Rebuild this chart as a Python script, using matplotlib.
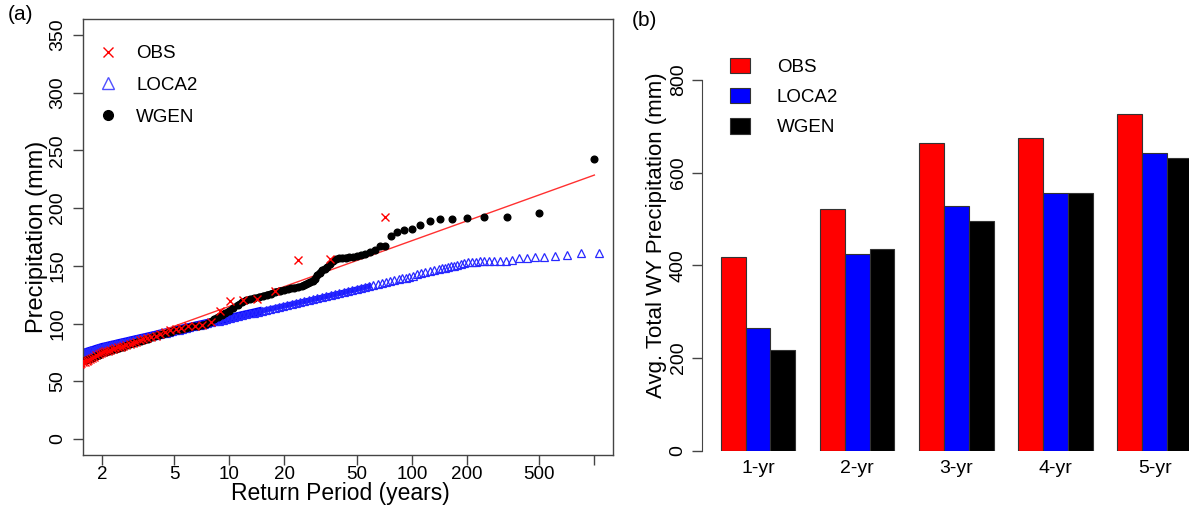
import matplotlib
matplotlib.use('Agg')
import matplotlib.pyplot as plt
import numpy as np
from matplotlib.lines import Line2D
from matplotlib.patches import Patch
from matplotlib.ticker import NullLocator

plt.rcParams['font.family'] = ['Liberation Sans', 'DejaVu Sans']

# ---- (a) annual maxima vs return period, T = (n + 1) / rank ----
obs_n = 70
obs_mm = [192, 156.3, 155.4, 127.8, 121.5, 120.6, 119.4, 110.7, 101.2, 98.3,
          98, 97.5, 96.5, 95.5, 94, 92.5, 91, 89.5, 88.5, 87.3,
          86.3, 85.3, 84.3, 83.4, 82.5, 81.6, 80.8, 80.0, 79.2, 78.5,
          77.8, 77.1, 76.5, 75.9, 75.3, 74.5, 73.3, 72.3, 71.2, 70.2,
          69.2, 68.5, 67.8, 67, 66.3, 65.5, 65]

wgen_n = 999
wgen_rank = [1, 2, 3, 4, 5, 6, 7, 8, 9, 10, 11, 12, 13, 14, 15, 16, 17, 18, 19, 20,
             21, 22, 23, 24, 25, 26, 27, 28, 29, 30, 31, 32, 33, 34, 35, 36, 37, 38, 39, 40,
             42, 44, 46, 48, 50, 53, 56, 59, 62, 65, 69, 73, 77, 81, 85, 90, 95, 100,
             105, 110, 116, 122, 128, 135, 142, 149, 157, 165, 173, 182, 191, 200,
             210, 220, 231, 242, 254, 266, 279, 292, 306, 320, 335, 350, 366, 383,
             400, 418, 437, 456, 476, 497, 518, 540, 563, 587, 611, 636, 660]
wgen_mm = [243, 196, 192.4, 192.2, 191.6, 190.7, 190.7, 189.3, 185, 182.3,
           181, 179.4, 176, 167.5, 167, 164, 162.3, 160.6, 159, 158.5,
           158, 157.5, 157, 156.8, 156.5, 155.5, 154, 151.5, 149, 147.5,
           146, 144, 141.7, 139, 137, 136, 135, 134, 133.5, 132.5,
           131.5, 131, 130.5, 129.5, 129, 128.5, 127.5, 126, 125, 124, 123, 122, 121, 120,
           118.5, 116, 113.5, 111, 109, 107.5, 105.5, 103.5, 101, 99.5, 98.5, 98, 97.5,
           97, 96, 95, 94.5, 94, 93, 92, 91, 90, 89, 88, 87, 86, 85, 84, 83, 82, 81, 80,
           79, 78, 77, 76, 75, 74, 73, 72, 70.5, 69.5, 68.5, 67.5, 66.5]

loca2_n = 4249
loca2_rank = [4, 5, 6, 7, 8, 9, 10, 11, 12, 13, 14, 15, 16, 17, 18, 19, 20, 21, 22, 23,
              24, 25, 26, 27, 28, 29, 30, 32, 34, 36, 38, 40, 42, 44, 46, 48, 50, 53,
              56, 59, 62, 65, 69, 73, 77, 81, 85, 90, 95, 100, 106, 112, 118, 125, 132,
              140, 148, 156, 165, 174, 184, 194, 205, 216, 228, 240, 253, 266, 280, 295,
              310, 326, 343, 361, 380, 400, 420, 441, 463, 486, 510, 535, 561, 588, 616,
              645, 675, 706, 738, 771, 805, 840, 876, 913, 951, 990, 1030, 1071, 1113,
              1156, 1200, 1245, 1291, 1338, 1386, 1435, 1485, 1536, 1588, 1641, 1695,
              1750, 1806, 1863, 1921, 1980, 2040, 2101, 2163, 2226, 2290, 2355, 2421,
              2488, 2556, 2625, 2695, 2766]
loca2_mm = [161, 161, 159, 158.5, 158, 158, 157, 156.5, 155, 154.5, 154.3, 154, 154,
            153.8, 153.8, 153.5, 153.3, 153, 152.5, 151.5, 150.5, 150, 149.5, 149,
            148.5, 148, 147.5, 146.5, 145.5, 144.5, 143.5, 142.5, 141.2, 140.5, 139.8,
            139.2, 138.5, 137.5, 136.5, 135.7, 135, 134.2, 133.2, 132.3, 131.4, 130.6,
            129.8, 128.8, 128, 127.1, 126.2, 125.3, 124.5, 123.6, 122.7, 121.8, 120.9,
            120.1, 119.3, 118.4, 117.6, 116.8, 115.9, 115.1, 114.3, 113.5, 112.7, 111.9,
            111.1, 110.3, 109.5, 108.7, 108, 107.2, 106.4, 105.6, 104.8, 104.1, 103.4,
            102.6, 101.9, 101.1, 100.4, 99.7, 99, 98.3, 97.6, 96.9, 96.2, 95.5, 94.8,
            94.2, 93.5, 92.8, 92.2, 91.6, 91, 90.3, 89.7, 89.1, 88.5, 87.9, 87.4, 86.8,
            86.3, 85.7, 85.2, 84.6, 84.1, 83.6, 83.1, 82.6, 82, 81.6, 81.1, 80.6, 80.1,
            79.7, 79.1, 78.5, 77.9, 77.2, 76.7, 76.1, 75.5, 74.9, 74.4, 73.8]

# fitted line through OBS (end points)
fit_rp = [1.01, 1000]
fit_mm = [58.2, 228.7]

# ---- (b) average total water-year precipitation ----
periods = ['1-yr', '2-yr', '3-yr', '4-yr', '5-yr']
obs_avg = [418, 521, 665, 674, 727]
loca2_avg = [264, 425, 528, 556, 642]
wgen_avg = [218, 435, 495, 555, 632]

obs_rp = (obs_n + 1) / np.arange(1, len(obs_mm) + 1)
wgen_rp = (wgen_n + 1) / np.array(wgen_rank)
loca2_rp = (loca2_n + 1) / np.array(loca2_rank)
wgen_mm = np.array(wgen_mm)
loca2_mm = np.array(loca2_mm)

W, H = 1189, 505
fig = plt.figure(figsize=(W / 100, H / 100), dpi=100)

ax1 = fig.add_axes([83 / W, 50 / H, 530 / W, 436 / H])
ax1.set_xscale('log')
# thousands of overlapping symbols make a solid band where the points are dense
dense = loca2_rp < 15
ax1.plot(loca2_rp[dense], loca2_mm[dense], color='blue', lw=6, zorder=1)
mid = loca2_rp < 60
ax1.plot(loca2_rp[mid], loca2_mm[mid], color='#1a1aff', lw=4, zorder=1)
ax1.plot(loca2_rp, loca2_mm, ls='none', marker='^', mfc='none', mec='#2828ff',
         mew=0.9, ms=6, zorder=1)
ax1.plot(fit_rp, fit_mm, color='#ff3030', lw=1.0, zorder=2)
dense = wgen_rp < 45
ax1.plot(wgen_rp[dense], wgen_mm[dense], color='black', lw=4.5, zorder=3)
ax1.plot(wgen_rp, wgen_mm, ls='none', marker='o', color='black', ms=4.8, zorder=3)
ax1.plot(obs_rp, obs_mm, ls='none', marker='x', color='red', mew=1.0, ms=5.5, zorder=4)

ax1.set_xlim(1.578, 1265)
ax1.set_ylim(-14, 364)
ax1.set_xticks([2, 5, 10, 20, 50, 100, 200, 500, 1000])
ax1.set_xticklabels(['2', '5', '10', '20', '50', '100', '200', '500', ''])
ax1.xaxis.set_minor_locator(NullLocator())
ax1.set_yticks(range(0, 351, 50))
ax1.set_yticklabels([str(v) for v in range(0, 351, 50)], rotation=90, va='center')
ax1.tick_params(length=7, width=1, color='#444444', labelsize=14)
ax1.tick_params(axis='x', pad=1, labelsize=13.5)
ax1.tick_params(axis='y', pad=5)
for s in ax1.spines.values():
    s.set_color('#444444')
    s.set_linewidth(1)
ax1.set_xlabel('Return Period (years)', fontsize=16.5)
ax1.xaxis.label.set_va('baseline')
ax1.xaxis.set_label_coords(0.485, -0.103)
ax1.set_ylabel('Precipitation (mm)', fontsize=17)
ax1.yaxis.set_label_coords(-0.066, 0.5)

h1 = [Line2D([], [], ls='none', marker='x', color='red', mew=1.0, ms=7),
      Line2D([], [], ls='none', marker='^', mfc='none', mec='#5050ff', mew=1.0, ms=8),
      Line2D([], [], ls='none', marker='o', color='black', ms=7)]
ax1.legend(h1, ['OBS', 'LOCA2', 'WGEN'], loc='upper left',
           bbox_to_anchor=(0.0297, 0.94), frameon=False, fontsize=13.5,
           handlelength=1.0, handletextpad=1.0, labelspacing=0.78,
           borderpad=0, borderaxespad=0)

# ---- bar panel ----
ax2 = fig.add_axes([702 / W, (H - 450.5) / H, 508.7 / W, 385.3 / H])
colors = ['#ff0000', '#0000ff', '#000000']
group_x = np.arange(len(periods)) * 4 + 1
for i, (vals, c) in enumerate(zip([obs_avg, loca2_avg, wgen_avg], colors)):
    ax2.bar(group_x + i + 0.5, vals, width=1.0, color=c, edgecolor='#333333',
            linewidth=0.8)
ax2.set_xlim(0.24, 20.76)
ax2.set_ylim(0, 832)
ax2.set_xticks(group_x + 1.5)
ax2.set_xticklabels(periods)
ax2.set_yticks(range(0, 801, 200))
ax2.set_yticklabels([str(v) for v in range(0, 801, 200)], rotation=90, va='center')
ax2.tick_params(axis='x', length=0, pad=7, labelsize=14)
ax2.tick_params(axis='y', length=7, width=1, color='#444444', pad=4, labelsize=14)
for k in ['top', 'right', 'bottom']:
    ax2.spines[k].set_visible(False)
ax2.spines['left'].set_bounds(0, 800)
ax2.spines['left'].set_color('#444444')
ax2.set_ylabel('Avg. Total WY Precipitation (mm)', fontsize=16)
ax2.yaxis.set_label_coords(-0.068, 0.559)

h2 = [Patch(facecolor=c, edgecolor='#333333', linewidth=0.8) for c in colors]
ax2.legend(h2, ['OBS', 'LOCA2', 'WGEN'], loc='upper left',
           bbox_to_anchor=(730 / W, 1 - 57.5 / H), bbox_transform=fig.transFigure,
           frameon=False, fontsize=13.5, handlelength=1.07, handleheight=0.89,
           handletextpad=1.42, labelspacing=0.645, borderpad=0, borderaxespad=0)

fig.text(8 / W, 1 - 15 / H, '(a)', fontsize=15, va='center', ha='left')
fig.text(632 / W, 1 - 20 / H, '(b)', fontsize=15, va='center', ha='left')

fig.savefig('out.png', dpi=100)
